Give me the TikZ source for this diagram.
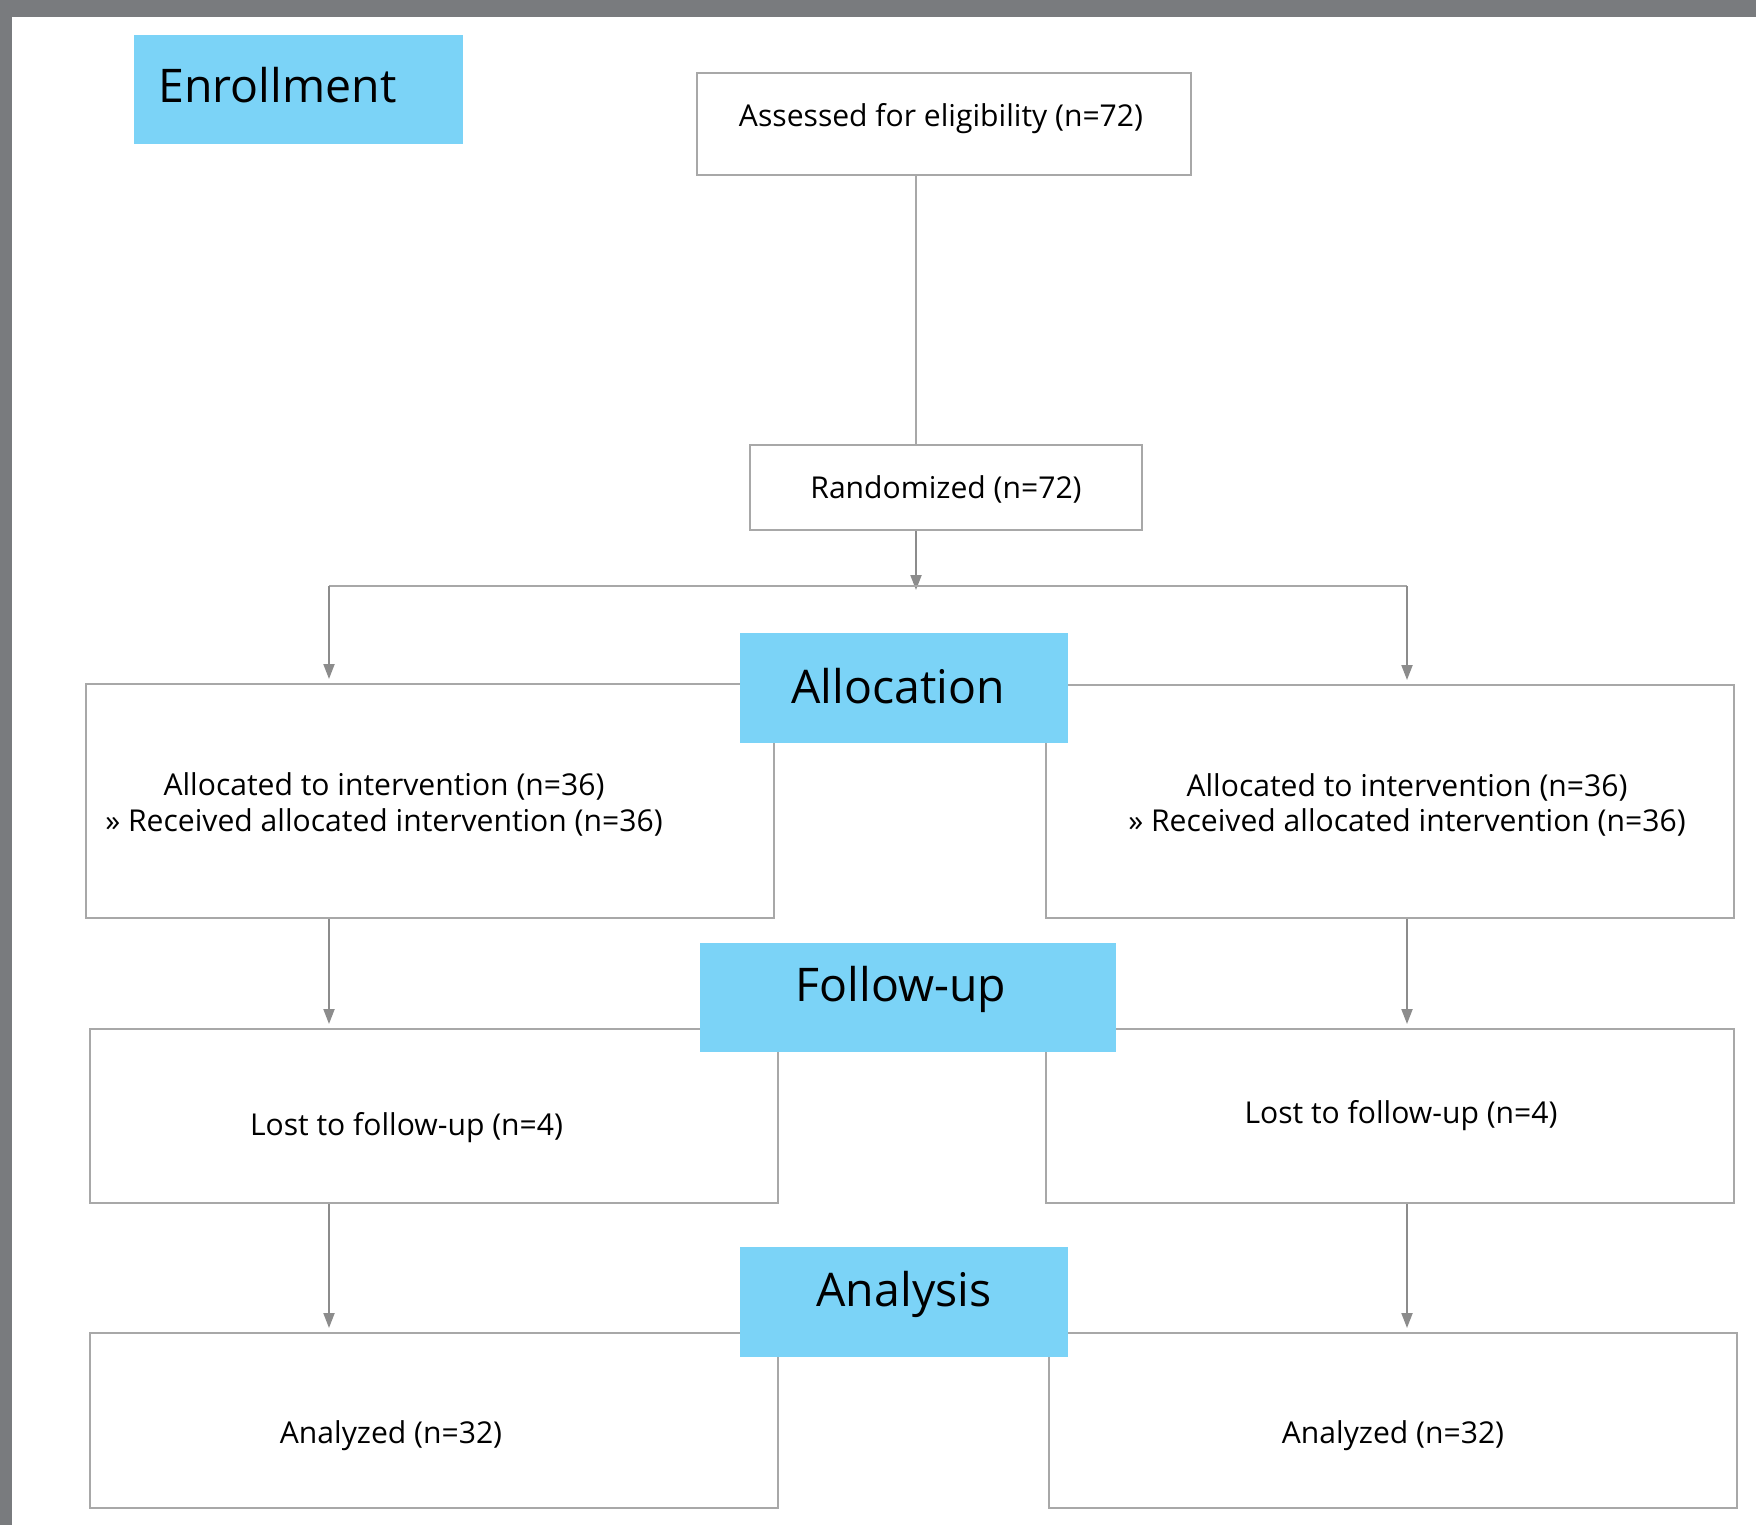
\documentclass[tikz,border=0pt]{standalone}
\usepackage{fontspec}
\setmainfont{Open Sans}
\usetikzlibrary{arrows.meta}
\definecolor{framegray}{HTML}{797B7E}
\definecolor{phaseblue}{HTML}{7BD3F7}
\definecolor{boxgray}{HTML}{A8A8A8}
\definecolor{arrowgray}{HTML}{8C8C8C}
\tikzset{
  box/.style={draw=boxgray, line width=1pt, inner sep=0pt},
  phase/.style={fill=phaseblue, inner sep=0pt},
  boxsize/.style 2 args={minimum width=#1*0.5pt, minimum height=#2*0.5pt},
  boxtext/.style={font=\fontsize{15.05}{18}\selectfont, inner sep=0pt, text height=10.8pt, text depth=0pt},
  twoline/.style={font=\fontsize{15.05}{17.8}\selectfont, inner sep=0pt, align=center},
  phasetext/.style={font=\fontsize{23.2}{27}\selectfont, inner sep=0pt, text height=16.5pt, text depth=0pt},
  arr/.style={draw=arrowgray, line width=1pt, -{Triangle[width=5.5pt,length=7.5pt]}, shorten >=2pt},
  conn/.style={draw=boxgray, line width=1pt},
}
\begin{document}
\begin{tikzpicture}[x=0.5pt, y=-0.5pt]
\useasboundingbox (0,0) rectangle (1756,1525);
\fill[framegray] (0,0) rectangle (1756,1525);
\fill[white] (12,17) rectangle (1756,1525);
\node[box, boxsize={494}{102}, label={[boxtext, xshift=-1.5pt, yshift=4.3pt]center:Assessed for eligibility (n=72)}] (assess) at (944,124) {};
\node[box, boxsize={392}{85}, label={[boxtext]center:Randomized (n=72)}] (rand) at (946,487.5) {};
\node[box, boxsize={688}{234}, label={[twoline, xshift=-23pt, yshift=-1.7pt]center:{Allocated to intervention (n=36)\\» Received allocated intervention (n=36)}}] (allocL) at (430,801) {};
\node[box, boxsize={688}{233}, label={[twoline, xshift=8.5pt, yshift=-1.7pt]center:{Allocated to intervention (n=36)\\» Received allocated intervention (n=36)}}] (allocR) at (1390,801.5) {};
\node[box, boxsize={688}{174}, label={[boxtext, xshift=-13.75pt, yshift=-4.5pt]center:Lost to follow-up (n=4)}] (lostL) at (434,1116) {};
\node[box, boxsize={688}{174}, label={[boxtext, xshift=5.5pt, yshift=1.75pt]center:Lost to follow-up (n=4)}] (lostR) at (1390,1116) {};
\node[box, boxsize={688}{175}, label={[boxtext, xshift=-21.5pt, yshift=-6.25pt]center:Analyzed (n=32)}] (anaL) at (434,1420.5) {};
\node[box, boxsize={688}{175}, label={[boxtext, yshift=-6.25pt]center:Analyzed (n=32)}] (anaR) at (1393,1420.5) {};
\coordinate (split) at (916,586);
\coordinate (left) at (329,586);
\coordinate (right) at (1407,586);
\draw[conn] (assess.south -| split) -- (rand.north -| split);
\draw[arr, shorten >=-2pt] (rand.south -| split) -- (split);
\draw[conn] (left) -- (right);
\draw[arr] (left) -- (allocL.north -| left);
\draw[arr] (right) -- (allocR.north -| right);
\draw[arr] (allocL.south -| left) -- (lostL.north -| left);
\draw[arr] (allocR.south -| right) -- (lostR.north -| right);
\draw[arr] (lostL.south -| left) -- (anaL.north -| left);
\draw[arr] (lostR.south -| right) -- (anaR.north -| right);
\node[phase, boxsize={329}{109}, label={[phasetext, xshift=-10.5pt, yshift=1.75pt]center:Enrollment}] (enroll) at (298.5,89.5) {};
\node[phase, boxsize={328}{110}, label={[phasetext, xshift=-3pt, yshift=0.75pt]center:Allocation}] (allocation) at (904,688) {};
\node[phase, boxsize={416}{109}, label={[phasetext, xshift=-3.5pt, yshift=6.25pt]center:Follow-up}] (followup) at (908,997.5) {};
\node[phase, boxsize={328}{110}, label={[phasetext, yshift=6.25pt]center:Analysis}] (analysis) at (904,1302) {};
\end{tikzpicture}
\end{document}
